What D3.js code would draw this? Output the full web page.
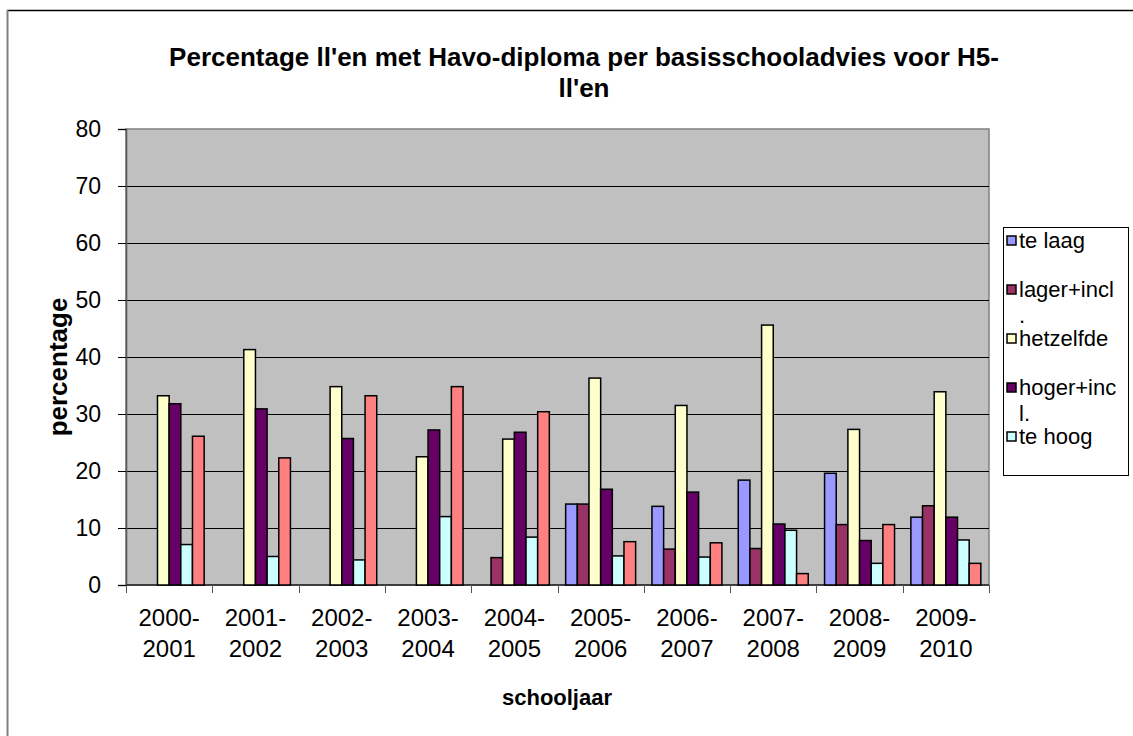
<!DOCTYPE html>
<html>
<head>
<meta charset="utf-8">
<script src="https://cdn.jsdelivr.net/npm/d3@7"></script>
<style>
    body { margin: 0; background: #fff; }
    svg { display: block; font-family: Arial, "Liberation Sans", sans-serif; }
</style>
</head>
<body>
<svg id="chart" width="1133" height="736"></svg>
<script>
const CHART_TITLE = ["Percentage ll'en met Havo-diploma per basisschooladvies voor H5-", "ll'en"];
const X_TITLE = 'schooljaar';
const Y_TITLE = 'percentage';

const years = ['2000-2001', '2001-2002', '2002-2003', '2003-2004', '2004-2005',
    '2005-2006', '2006-2007', '2007-2008', '2008-2009', '2009-2010'];
const yTicks = [0, 10, 20, 30, 40, 50, 60, 70, 80];

// the legend in the picture is cut off after five entries
const seriesNames = ['te laag', 'lager+incl.', 'hetzelfde', 'hoger+incl.', 'te hoog', 'overig'];
const legendNames = ['te laag', 'lager+incl.', 'hetzelfde', 'hoger+incl.', 'te hoog'];
const seriesColors = ['#9999FF', '#993366', '#FFFFCC', '#660066', '#CCFFFF', '#FF8080'];

const teLaag     = [0, 0, 0, 0, 0, 14.2, 13.8, 18.4, 19.6, 11.9];
const lagerIncl  = [0, 0, 0, 0, 4.8, 14.2, 6.3, 6.4, 10.6, 13.9];
const hetzelfde  = [33.2, 41.3, 34.8, 22.5, 25.6, 36.3, 31.5, 45.6, 27.3, 33.9];
const hogerIncl  = [31.8, 30.9, 25.7, 27.2, 26.8, 16.8, 16.3, 10.7, 7.8, 11.9];
const teHoog     = [7.1, 5.0, 4.4, 12.0, 8.4, 5.1, 4.9, 9.6, 3.8, 7.9];
const overig     = [26.1, 22.3, 33.2, 34.8, 30.4, 7.6, 7.4, 2.0, 10.6, 3.8];

const seriesValues = [teLaag, lagerIncl, hetzelfde, hogerIncl, teHoog, overig];

const plot = {left: 126, right: 989, top: 129, bottom: 585};

let svg = d3.select('#chart');

// outer frame (only top and left edges show in the picture)
svg.append('line').attr('x1', 7).attr('x2', 1133).attr('y1', 10.5).attr('y2', 10.5)
    .attr('stroke', '#000').attr('stroke-width', 1.5);
svg.append('line').attr('x1', 7.5).attr('x2', 7.5).attr('y1', 10).attr('y2', 736)
    .attr('stroke', '#808080').attr('stroke-width', 2);

let x0 = d3.scaleBand().domain(years).range([plot.left, plot.right]).paddingInner(0).paddingOuter(0);
let x1 = d3.scaleBand().domain(seriesNames).range([0, x0.bandwidth()]).paddingInner(0).paddingOuter(0.7);
let y = d3.scaleLinear().domain([0, 80]).range([plot.bottom, plot.top]);

// plot background
svg.append('rect')
    .attr('x', plot.left).attr('y', plot.top)
    .attr('width', plot.right - plot.left).attr('height', plot.bottom - plot.top)
    .attr('fill', '#C0C0C0').attr('stroke', '#808080').attr('stroke-width', 1.5);

// gridlines
svg.append('g').selectAll('line')
    .data(yTicks.filter(t => t > 0 && t < 80))
    .join('line')
    .attr('x1', plot.left).attr('x2', plot.right)
    .attr('y1', d => Math.round(y(d)) + 0.5).attr('y2', d => Math.round(y(d)) + 0.5)
    .attr('stroke', '#000').attr('stroke-width', 1);

// y axis
let yAxis = svg.append('g')
    .attr('transform', `translate(${plot.left},0)`)
    .call(d3.axisLeft(y).tickValues(yTicks).tickSize(8).tickPadding(17).tickFormat(d3.format('d')));
yAxis.select('.domain').attr('stroke', '#555').attr('stroke-width', 1.5);
yAxis.selectAll('.tick line').attr('stroke', '#000');
yAxis.selectAll('.tick text').attr('font-size', 23).attr('fill', '#000')
    .attr('font-family', 'Arial, "Liberation Sans", sans-serif');

// x axis: ticks sit between the categories
let xAxis = svg.append('g').attr('transform', `translate(0,${plot.bottom})`);
xAxis.append('line').attr('x1', plot.left).attr('x2', plot.right)
    .attr('stroke', '#222').attr('stroke-width', 1.5);
let edges = years.map(d => x0(d)).concat([plot.right]);
xAxis.selectAll('.edge').data(edges).join('line')
    .attr('class', 'edge')
    .attr('x1', d => Math.round(d) + 0.5).attr('x2', d => Math.round(d) + 0.5)
    .attr('y1', 0).attr('y2', 8)
    .attr('stroke', '#555');
let xLabels = xAxis.selectAll('.xlab').data(years).join('text')
    .attr('class', 'xlab')
    .attr('text-anchor', 'middle')
    .attr('font-size', 24)
    .attr('x', d => x0(d) + x0.bandwidth() / 2)
    .attr('y', 41);
xLabels.append('tspan').attr('x', d => x0(d) + x0.bandwidth() / 2).text(d => d.split('-')[0] + '-');
xLabels.append('tspan').attr('x', d => x0(d) + x0.bandwidth() / 2).attr('dy', 31).text(d => d.split('-')[1]);

// bars
let groups = svg.append('g').selectAll('g')
    .data(years)
    .join('g')
    .attr('transform', d => `translate(${x0(d)},0)`);

groups.selectAll('rect')
    .data((d, i) => seriesNames.map((name, s) => ({name: name, value: seriesValues[s][i], color: seriesColors[s]})))
    .join('rect')
    .filter(d => d.value > 0)
    .attr('x', d => x1(d.name))
    .attr('y', d => y(d.value))
    .attr('width', x1.bandwidth())
    .attr('height', d => y(0) - y(d.value))
    .attr('fill', d => d.color)
    .attr('stroke', '#000')
    .attr('stroke-width', 1.5);

// titles
let title = svg.append('text')
    .attr('text-anchor', 'middle')
    .attr('font-weight', 'bold')
    .attr('font-size', 26);
CHART_TITLE.forEach((line, i) => {
    title.append('tspan').attr('x', 584).attr('y', 66 + i * 31).text(line);
});

svg.append('text')
    .attr('text-anchor', 'middle')
    .attr('font-weight', 'bold')
    .attr('font-size', 22)
    .attr('x', 557).attr('y', 705)
    .text(X_TITLE);

svg.append('text')
    .attr('text-anchor', 'middle')
    .attr('font-weight', 'bold')
    .attr('font-size', 26)
    .attr('transform', 'translate(67,367) rotate(-90)')
    .text(Y_TITLE);

// legend
let legend = svg.append('g');
legend.append('rect')
    .attr('x', 1003.5).attr('y', 227.5).attr('width', 125).attr('height', 248)
    .attr('fill', '#fff').attr('stroke', '#000').attr('stroke-width', 1);

function wrapLabel(textSel, label, maxWidth) {
    // break on characters, the way the spreadsheet legend does
    let lines = [];
    let current = '';
    let probe = textSel.append('tspan');
    for (let ch of label) {
        probe.text(current + ch);
        if (current.length > 0 && probe.node().getComputedTextLength() > maxWidth) {
            lines.push(current);
            current = ch;
        } else {
            current += ch;
        }
    }
    lines.push(current);
    probe.remove();
    return lines;
}

legendNames.forEach((name, i) => {
    let top = 248 + i * 49;
    let color = seriesColors[seriesNames.indexOf(name)];
    legend.append('rect')
        .attr('x', 1007).attr('y', top - 12)
        .attr('width', 9).attr('height', 9)
        .attr('fill', color).attr('stroke', '#000').attr('stroke-width', 1.5);
    let t = legend.append('text').attr('font-size', 22).attr('x', 1019).attr('y', top);
    let lines = wrapLabel(t, name, 99);
    lines.forEach((line, j) => {
        t.append('tspan').attr('x', 1019).attr('y', top + j * 26).text(line);
    });
});
</script>
</body>
</html>
